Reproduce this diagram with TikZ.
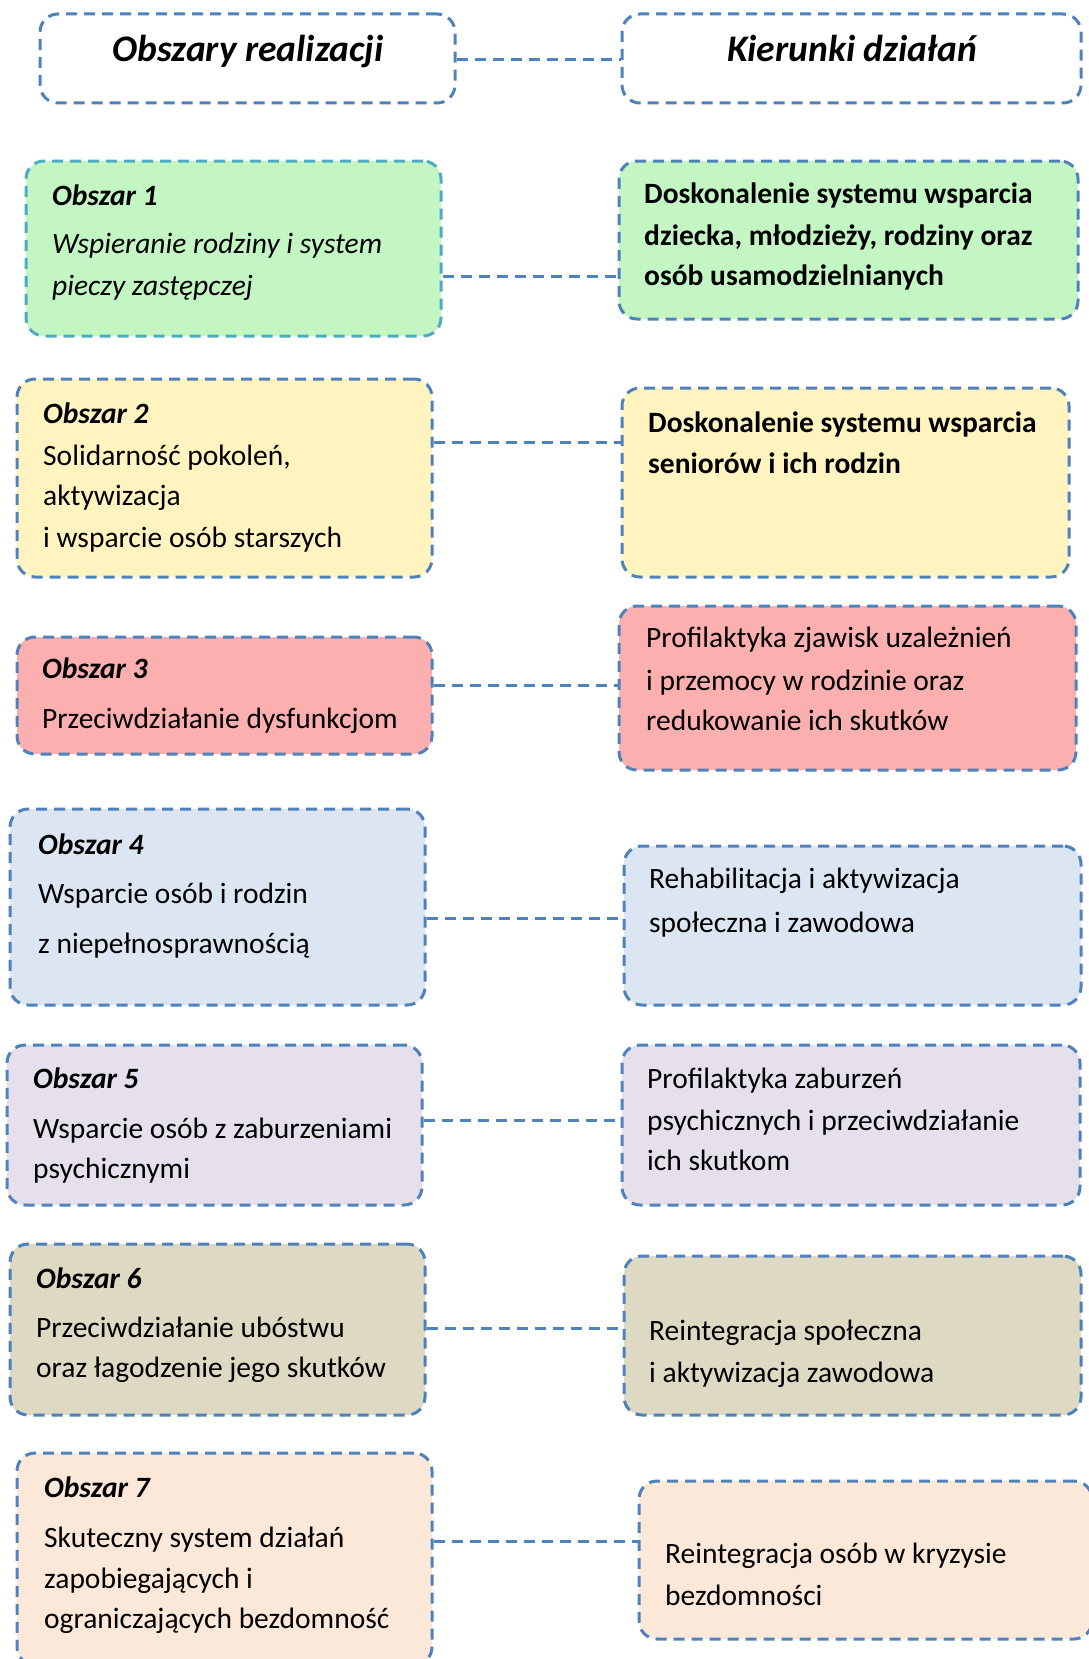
\documentclass[tikz,border=0pt]{standalone}
\usepackage{fontspec}
\setmainfont{Carlito}
\definecolor{bline}{HTML}{4F81BD}
\definecolor{tline}{HTML}{4BACC6}
\definecolor{cgreen}{HTML}{C4F6C4}
\definecolor{cyellow}{HTML}{FFF4C0}
\definecolor{cpink}{HTML}{FBAFAE}
\definecolor{cblue}{HTML}{DCE6F2}
\definecolor{clav}{HTML}{E5E0EC}
\definecolor{ckhaki}{HTML}{DDD9C3}
\definecolor{cpeach}{HTML}{FCE8D9}
\newcommand{\bodyfs}{\fontsize{29.5}{34}\selectfont}
\tikzset{
  box/.style={draw=bline, line width=3pt, dash pattern=on 11pt off 7pt, rounded corners=18pt, inner sep=0pt},
  conn/.style={draw=bline, line width=3pt, dash pattern=on 11pt off 7pt},
  tx/.style={anchor=base west, inner sep=0pt, font=\bodyfs},
  tb/.style={tx, font=\bodyfs\bfseries},
  ti/.style={tx, font=\bodyfs\itshape},
  tbi/.style={tx, font=\bodyfs\bfseries\itshape},
  hd/.style={anchor=base, inner sep=0pt, font=\fontsize{37.5}{42}\selectfont\bfseries\itshape},
}
\begin{document}
\begin{tikzpicture}[x=1pt,y=-1pt]
\useasboundingbox (0,0) rectangle (1089,1659);
\clip (0,0) rectangle (1089,1659);
% boxes
\node[box, minimum width=415pt, minimum height=89pt] (H1) at (247.5,58.5) {};
\node[box, minimum width=459pt, minimum height=89pt] (H2) at (851.5,58.5) {};
\node[box, draw=tline, fill=cgreen, minimum width=415pt, minimum height=175pt] (L1) at (233.5,248.5) {};
\node[box, fill=cgreen, minimum width=459pt, minimum height=158pt] (R1) at (848.5,240) {};
\node[box, fill=cyellow, minimum width=415pt, minimum height=198pt] (L2) at (224.5,478) {};
\node[box, fill=cyellow, minimum width=447pt, minimum height=189pt] (R2) at (845.5,482.5) {};
\node[box, fill=cpink, minimum width=415pt, minimum height=117pt] (L3) at (224.5,695.5) {};
\node[box, fill=cpink, minimum width=457pt, minimum height=164pt] (R3) at (847.5,688) {};
\node[box, fill=cblue, minimum width=415pt, minimum height=196pt] (L4) at (217.5,907) {};
\node[box, fill=cblue, minimum width=457pt, minimum height=159pt] (R4) at (852.5,925.5) {};
\node[box, fill=clav, minimum width=415pt, minimum height=160pt] (L5) at (214.5,1125) {};
\node[box, fill=clav, minimum width=458pt, minimum height=160pt] (R5) at (851,1125) {};
\node[box, fill=ckhaki, minimum width=415pt, minimum height=171pt] (L6) at (217.5,1329.5) {};
\node[box, fill=ckhaki, minimum width=457pt, minimum height=159pt] (R6) at (852.5,1335.5) {};
\node[box, fill=cpeach, minimum width=415pt, minimum height=212pt] (L7) at (224.5,1559) {};
\node[box, fill=cpeach, minimum width=453pt, minimum height=158pt] (R7) at (865.5,1560) {};
% connectors
\draw[conn] (H1.east |- 0,60) -- (H2.west |- 0,60);
\draw[conn] (L1.east |- 0,276) -- (R1.west |- 0,276);
\draw[conn] (L2.east |- 0,442) -- (R2.west |- 0,442);
\draw[conn] (L3.east |- 0,685) -- (R3.west |- 0,685);
\draw[conn] (L4.east |- 0,918) -- (R4.west |- 0,918);
\draw[conn] (L5.east |- 0,1120) -- (R5.west |- 0,1120);
\draw[conn] (L6.east |- 0,1328) -- (R6.west |- 0,1328);
\draw[conn] (L7.east |- 0,1541) -- (R7.west |- 0,1541);
% headers
\node[hd] (h1t) at (248,62) {Obszary realizacji};
\node[hd] (h2t) at (852,62) {Kierunki działań};
% box 1
\node[tbi] (l1a) at (52,205) {Obszar 1};
\node[ti] (l1b) at (52,253) {Wspieranie rodziny i system};
\node[ti] (l1c) at (52,295) {pieczy zastępczej};
\node[tb] (r1a) at (644,203) {Doskonalenie systemu wsparcia};
\node[tb] (r1b) at (644,245) {dziecka, młodzieży, rodziny oraz};
\node[tb] (r1c) at (644,285) {osób usamodzielnianych};
% box 2
\node[tbi] (l2a) at (43,423) {Obszar 2};
\node[tx] (l2b) at (43,465) {Solidarność pokoleń,};
\node[tx] (l2c) at (43,505) {aktywizacja};
\node[tx] (l2d) at (43,547) {i wsparcie osób starszych};
\node[tb] (r2a) at (648,432) {Doskonalenie systemu wsparcia};
\node[tb] (r2b) at (648,473) {seniorów i ich rodzin};
% box 3
\node[tbi] (l3a) at (42,678) {Obszar 3};
\node[tx] (l3b) at (42,728) {Przeciwdziałanie dysfunkcjom};
\node[tx] (r3a) at (646,647) {Profilaktyka zjawisk uzależnień};
\node[tx] (r3b) at (646,690) {i przemocy w rodzinie oraz};
\node[tx] (r3c) at (646,730) {redukowanie ich skutków};
% box 4
\node[tbi] (l4a) at (38,854) {Obszar 4};
\node[tx] (l4b) at (38,903) {Wsparcie osób i rodzin};
\node[tx] (l4c) at (38,953) {z niepełnosprawnością};
\node[tx] (r4a) at (649,888) {Rehabilitacja i aktywizacja};
\node[tx] (r4b) at (649,932) {społeczna i zawodowa};
% box 5
\node[tbi] (l5a) at (33,1088) {Obszar 5};
\node[tx] (l5b) at (33,1138) {Wsparcie osób z zaburzeniami};
\node[tx] (l5c) at (33,1178) {psychicznymi};
\node[tx] (r5a) at (647,1088) {Profilaktyka zaburzeń};
\node[tx] (r5b) at (647,1130) {psychicznych i przeciwdziałanie};
\node[tx] (r5c) at (647,1170) {ich skutkom};
% box 6
\node[tbi] (l6a) at (36,1288) {Obszar 6};
\node[tx] (l6b) at (36,1337) {Przeciwdziałanie ubóstwu};
\node[tx] (l6c) at (36,1377) {oraz łagodzenie jego skutków};
\node[tx] (r6a) at (649,1340) {Reintegracja społeczna};
\node[tx] (r6b) at (649,1382) {i aktywizacja zawodowa};
% box 7
\node[tbi] (l7a) at (44,1497) {Obszar 7};
\node[tx] (l7b) at (44,1547) {Skuteczny system działań};
\node[tx] (l7c) at (44,1588) {zapobiegających i};
\node[tx] (l7d) at (44,1628) {ograniczających bezdomność};
\node[tx] (r7a) at (665,1563) {Reintegracja osób w kryzysie};
\node[tx] (r7b) at (665,1605) {bezdomności};
\end{tikzpicture}
\end{document}
